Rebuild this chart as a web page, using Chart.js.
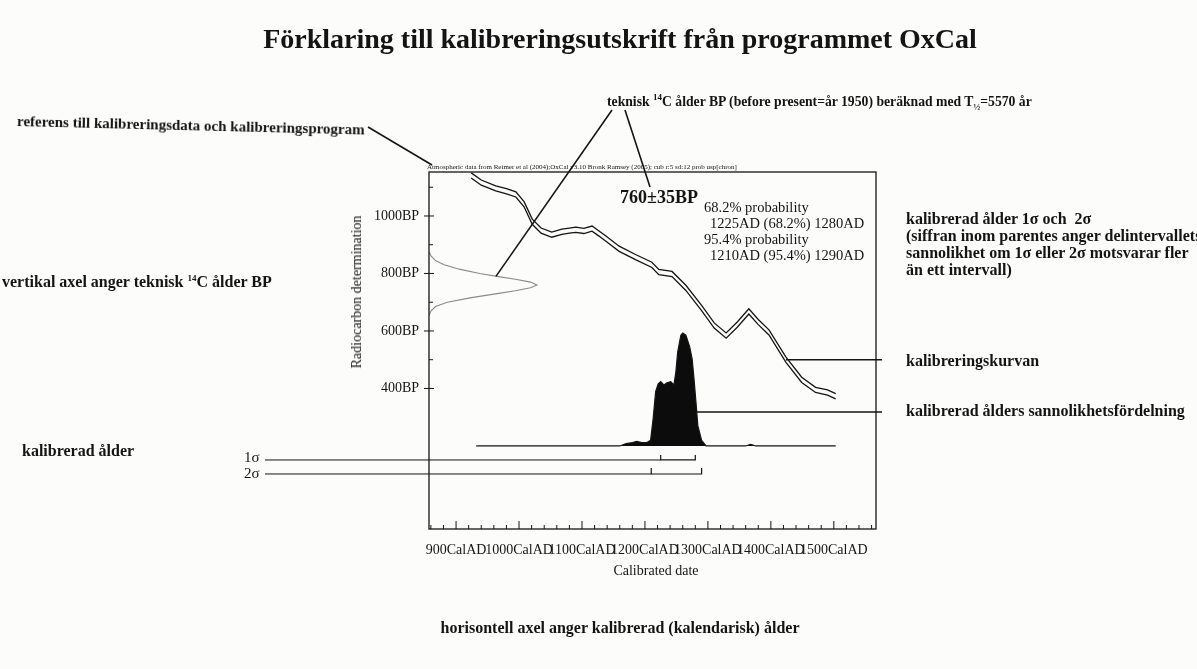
<!DOCTYPE html>
<html>
<head>
<meta charset="utf-8">
<script src="https://cdn.jsdelivr.net/npm/chart.js@4.4.0/dist/chart.umd.min.js"></script>
<style>
  body { margin: 0; background: #fcfcfb; }
  #wrap { position: relative; width: 1197px; height: 669px; overflow: hidden;
          font-family: "Liberation Serif", "Times New Roman", serif; color: #141414; }
  #chart { position: absolute; left: 0; top: 0; }
  .t { position: absolute; white-space: nowrap; line-height: 1; }
  .b { font-weight: bold; font-size: 16px; }
  .r { font-size: 14.5px; }
  sup, sub { font-size: 9px; line-height: 0; }
</style>
</head>
<body>
<div id="wrap">
  <canvas id="chart" width="1197" height="669"></canvas>

  <div class="t" style="left:620px;top:25px;transform:translateX(-50%);font-size:28px;font-weight:bold;">Förklaring till kalibreringsutskrift från programmet OxCal</div>
  <div class="t b" style="left:607px;top:95px;font-size:13.7px;">teknisk <sup>14</sup>C ålder BP (before present=år 1950) beräknad med T<sub>½</sub>=5570 år</div>
  <div class="t b" style="left:17px;top:114px;font-size:15px;transform:rotate(1.4deg);transform-origin:left center;">referens till kalibreringsdata och kalibreringsprogram</div>
  <div class="t" style="left:427px;top:164px;font-size:7px;">Atmospheric data from Reimer et al (2004);OxCal v3.10 Bronk Ramsey (2005); cub r:5 sd:12 prob usp[chron]</div>
  <div class="t" style="left:620px;top:188px;font-size:18px;font-weight:bold;">760±35BP</div>
  <div class="t r" style="left:704px;top:200px;">68.2% probability</div>
  <div class="t r" style="left:710px;top:216px;">1225AD (68.2%) 1280AD</div>
  <div class="t r" style="left:704px;top:232px;">95.4% probability</div>
  <div class="t r" style="left:710px;top:248px;">1210AD (95.4%) 1290AD</div>

  <div class="t b" style="left:906px;top:211px;">kalibrerad ålder 1σ och&nbsp; 2σ</div>
  <div class="t b" style="left:906px;top:228px;">(siffran inom parentes anger delintervallets</div>
  <div class="t b" style="left:906px;top:245px;">sannolikhet om 1σ eller 2σ motsvarar fler</div>
  <div class="t b" style="left:906px;top:262px;">än ett intervall)</div>
  <div class="t b" style="left:906px;top:353px;">kalibreringskurvan</div>
  <div class="t b" style="left:906px;top:403px;">kalibrerad ålders sannolikhetsfördelning</div>

  <div class="t b" style="left:2px;top:274px;">vertikal axel anger teknisk <sup>14</sup>C ålder BP</div>
  <div class="t b" style="left:22px;top:443px;">kalibrerad ålder</div>
  <div class="t r" style="left:244px;top:450px;font-size:15px;">1σ</div>
  <div class="t r" style="left:244px;top:466px;font-size:15px;">2σ</div>

  <div class="t" style="left:357px;top:292px;transform:translate(-50%,-50%) rotate(-90deg);font-size:14px;">Radiocarbon determination</div>
  <div class="t" style="left:656px;top:564px;transform:translateX(-50%);font-size:14px;">Calibrated date</div>
  <div class="t b" style="left:620px;top:620px;transform:translateX(-50%);">horisontell axel anger kalibrerad (kalendarisk) ålder</div>
</div>

<script>
// calibration curve as plotted by OxCal: mean BP and 1 sd band
const curveYears = [924, 940, 963, 980, 995, 1008, 1021, 1035, 1052, 1068, 1080, 1090, 1103, 1116, 1127, 1138, 1159, 1185, 1211, 1222, 1243, 1265, 1290, 1310, 1329, 1347, 1365, 1380, 1397, 1424, 1449, 1471, 1490, 1503];
const curveBP = [1141, 1116, 1096, 1086, 1075, 1041, 980, 949, 935, 945, 949, 952, 948, 956, 939, 921, 886, 857, 830, 805, 798, 750, 680, 619, 584, 623, 668, 631, 595, 500, 430, 395, 386, 373];
const curveErr = [9, 9, 9, 9, 9, 9, 9, 9, 9, 9, 9, 9, 9, 9, 9, 9, 9, 9, 9, 9, 9, 9, 9, 9, 9, 9, 9, 9, 9, 9, 9, 9, 9, 9];

// the measurement 760±35BP drawn along the BP axis (relative probability)
const measBP = [875, 860, 845, 830, 815, 800, 790, 780, 770, 760, 750, 740, 730, 715, 700, 685, 670, 655];
const measProb = [0, 0.02, 0.06, 0.14, 0.28, 0.47, 0.63, 0.8, 0.94, 1, 0.94, 0.8, 0.63, 0.38, 0.17, 0.06, 0.02, 0];

// calibrated date distribution (relative probability)
const distYears = [932, 1160, 1170, 1180, 1187, 1195, 1203, 1209, 1213, 1217, 1221, 1225, 1230, 1235, 1241, 1246, 1249, 1252, 1257, 1260, 1265, 1271, 1275, 1278, 1281, 1284, 1290, 1297, 1360, 1368, 1376, 1503];
const distProb = [0, 0, 0.02, 0.03, 0.04, 0.03, 0.03, 0.05, 0.24, 0.48, 0.55, 0.57, 0.54, 0.56, 0.57, 0.54, 0.65, 0.83, 0.98, 1, 0.98, 0.88, 0.77, 0.59, 0.39, 0.18, 0.05, 0, 0, 0.015, 0, 0];

// 1 sigma and 2 sigma ranges
const range68 = [1225, 1280];
const range95 = [1210, 1290];

// tick labels
const xLabelYears = [900, 1000, 1100, 1200, 1300, 1400, 1500];
const yLabelBP = [400, 600, 800, 1000];

// where the range brackets sit on the probability axis
const LEVEL68 = -0.124, TOP68 = -0.080;
const LEVEL95 = -0.248, TOP95 = -0.195;

const ink = '#151515';
const serif = '"Liberation Serif", "Times New Roman", serif';

function bracket(range, level, top) {
    return [
        {x: range[0], y: top}, {x: range[0], y: level},
        {x: range[1], y: level}, {x: range[1], y: top}
    ];
}

// box, inward ticks and the pointer lines from the notes
const oxcalFrame = {
    id: 'oxcalFrame',
    afterDraw(chart) {
        const {ctx, chartArea: a} = chart;
        const {x, y, xp, yp} = chart.scales;
        const seg = (x1, y1, x2, y2) => {
            ctx.beginPath();
            ctx.moveTo(x1, y1);
            ctx.lineTo(x2, y2);
            ctx.stroke();
        };
        ctx.save();
        ctx.strokeStyle = ink;
        ctx.lineWidth = 1.3;
        ctx.strokeRect(a.left, a.top, a.right - a.left, a.bottom - a.top);

        ctx.lineWidth = 1;
        x.ticks.forEach(t => {
            const px = x.getPixelForValue(t.value);
            seg(px, a.bottom, px, a.bottom - (t.value % 100 === 0 ? 8 : 4));
        });
        y.ticks.forEach(t => {
            if (t.value < 400 || t.value > 1100) return;
            const py = y.getPixelForValue(t.value);
            if (yLabelBP.includes(t.value)) seg(a.left - 5, py, a.left + 5, py);
            else seg(a.left, py, a.left + 4, py);
        });

        // sigma pointers
        const p68 = yp.getPixelForValue(LEVEL68);
        const p95 = yp.getPixelForValue(LEVEL95);
        seg(265, p68, x.getPixelForValue(range68[0]), p68);
        seg(265, p95, x.getPixelForValue(range95[0]), p95);

        ctx.lineWidth = 1.6;
        seg(368, 127, 432, 165);
        seg(612, 110, xp.getPixelForValue(0.62), y.getPixelForValue(790));
        seg(625, 110, 650, 187);
        const cy = y.getPixelForValue(500);
        seg(x.getPixelForValue(1424), cy, 882, cy);
        const dy = yp.getPixelForValue(0.3);
        seg(x.getPixelForValue(1281), dy, 882, dy);
        ctx.restore();
    }
};

const line = (data, extra) => Object.assign({
    data: data,
    showLine: true,
    pointRadius: 0,
    borderColor: ink,
    borderWidth: 1.3,
    tension: 0
}, extra);

new Chart(document.getElementById('chart'), {
    type: 'scatter',
    data: {
        datasets: [
            line(curveYears.map((v, i) => ({x: v, y: curveBP[i] + curveErr[i]}))),
            line(curveYears.map((v, i) => ({x: v, y: curveBP[i] - curveErr[i]}))),
            line(measBP.map((v, i) => ({x: measProb[i], y: v})), {xAxisID: 'xp', borderColor: '#8a8a8a', borderWidth: 1.1}),
            line(distYears.map((v, i) => ({x: v, y: distProb[i]})), {yAxisID: 'yp', fill: 'origin', backgroundColor: '#0c0c0c', borderWidth: 1.2}),
            line(bracket(range68, LEVEL68, TOP68), {yAxisID: 'yp', borderWidth: 1.2}),
            line(bracket(range95, LEVEL95, TOP95), {yAxisID: 'yp', borderWidth: 1.2})
        ]
    },
    options: {
        responsive: false,
        animation: false,
        events: [],
        layout: {padding: {left: 369, right: 321, top: 172, bottom: 95}},
        plugins: {legend: {display: false}, tooltip: {enabled: false}},
        scales: {
            x: {
                type: 'linear', position: 'bottom', min: 857, max: 1567,
                afterFit: s => { s.height = 45; },
                grid: {display: false, drawTicks: false},
                border: {display: false},
                ticks: {
                    stepSize: 20, includeBounds: false, autoSkip: false, maxRotation: 0,
                    padding: 13, color: ink, font: {family: serif, size: 14},
                    callback: v => xLabelYears.includes(v) ? v + 'CalAD' : ''
                }
            },
            y: {
                type: 'linear', position: 'left', min: -89, max: 1153,
                afterFit: s => { s.width = 60; },
                grid: {display: false, drawTicks: false},
                border: {display: false},
                ticks: {
                    stepSize: 100, includeBounds: false, autoSkip: false,
                    padding: 10, color: ink, font: {family: serif, size: 14},
                    callback: v => yLabelBP.includes(v) ? v + 'BP' : ''
                }
            },
            xp: {type: 'linear', display: false, min: 0, max: 4.14},
            yp: {type: 'linear', display: false, min: -0.735, max: 2.425}
        }
    },
    plugins: [oxcalFrame]
});
</script>
</body>
</html>
